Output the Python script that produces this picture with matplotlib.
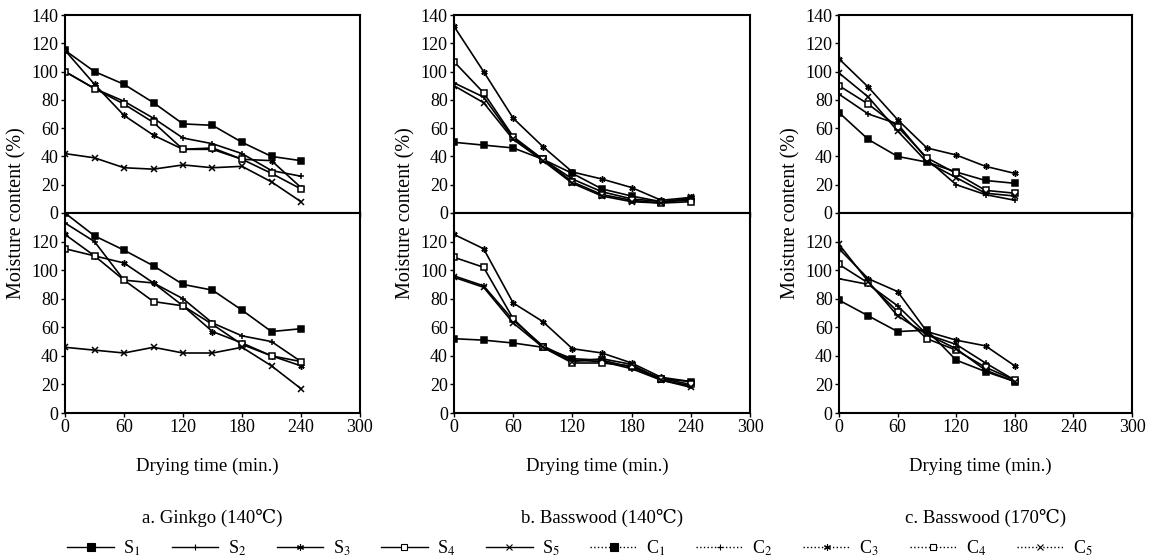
"""Moisture content vs drying time, three wood/temperature cases."""

import matplotlib

matplotlib.use("Agg")
import matplotlib.pyplot as plt
from matplotlib.lines import Line2D

plt.rcParams["font.family"] = ["Liberation Serif", "DejaVu Serif"]
plt.rcParams["mathtext.fontset"] = "stix"

# drying times (min.)
TIME_240 = [0, 30, 60, 90, 120, 150, 180, 210, 240]
TIME_180 = [0, 30, 60, 90, 120, 150, 180]

SERIES = ["1", "2", "3", "4", "5"]
MARKERS = {"1": "s", "2": "+", "3": (6, 2, 0), "4": "s", "5": "x"}
FILLED = {"1": True, "2": True, "3": True, "4": False, "5": True}

# a. Ginkgo (140 C)
GINKGO_S = {
    "1": [115, 100, 91, 78, 63, 62, 50, 40, 37],
    "2": [100, 88, 79, 67, 53, 49, 42, 30, 26],
    "3": [115, 91, 69, 55, 45, 45, 38, 37, 18],
    "4": [100, 88, 77, 64, 45, 46, 38, 28, 17],
    "5": [42, 39, 32, 31, 34, 32, 33, 22, 8],
}
GINKGO_C = {
    "1": [140, 124, 114, 103, 90, 86, 72, 57, 59],
    "2": [133, 120, 93, 91, 80, 63, 54, 50, 36],
    "3": [125, 110, 105, 91, 75, 57, 49, 40, 33],
    "4": [115, 110, 93, 78, 75, 62, 48, 40, 36],
    "5": [46, 44, 42, 46, 42, 42, 46, 33, 17],
}

# b. Basswood (140 C)
BASS140_S = {
    "1": [50, 48, 46, 38, 28, 17, 12, 8, 10],
    "2": [92, 82, 53, 38, 24, 15, 10, 8, 9],
    "3": [132, 100, 67, 47, 29, 24, 18, 9, 11],
    "4": [107, 85, 54, 38, 22, 13, 9, 7, 8],
    "5": [90, 78, 52, 37, 21, 12, 8, 7, 11],
}
BASS140_C = {
    "1": [52, 51, 49, 46, 38, 37, 32, 24, 22],
    "2": [96, 89, 65, 47, 37, 36, 31, 23, 19],
    "3": [125, 115, 77, 64, 45, 42, 35, 25, 22],
    "4": [109, 102, 66, 46, 35, 35, 33, 24, 20],
    "5": [95, 88, 63, 46, 36, 38, 34, 23, 18],
}

# c. Basswood (170 C)
BASS170_S = {
    "1": [71, 52, 40, 36, 29, 23, 21],
    "2": [84, 70, 63, 38, 20, 13, 9],
    "3": [109, 89, 66, 46, 41, 33, 28],
    "4": [90, 77, 61, 39, 28, 16, 14],
    "5": [99, 82, 58, 36, 25, 14, 12],
}
BASS170_C = {
    "1": [79, 68, 57, 58, 37, 29, 22],
    "2": [94, 90, 75, 55, 48, 35, 23],
    "3": [115, 94, 85, 57, 51, 47, 33],
    "4": [104, 91, 71, 52, 44, 32, 23],
    "5": [118, 92, 68, 55, 45, 30, 22],
}

PANELS = [
    ("a. Ginkgo (140\u2103)", TIME_240, GINKGO_S, GINKGO_C),
    ("b. Basswood (140\u2103)", TIME_240, BASS140_S, BASS140_C),
    ("c. Basswood (170\u2103)", TIME_180, BASS170_S, BASS170_C),
]

W, H = 1160, 559
LEFTS = [65, 454, 839]
RIGHTS = [360, 750, 1132]
TOP, MID, BOTTOM = 15, 213, 413


def draw_series(axis, times, values):
    for key in SERIES:
        axis.plot(
            times,
            values[key],
            color="black",
            linewidth=1.2,
            marker=MARKERS[key],
            markersize=4.5,
            markeredgewidth=1.1,
            markerfacecolor="black" if FILLED[key] else "white",
            markeredgecolor="black",
        )


def style_axis(axis, yticks, show_x):
    axis.set_xlim(0, 300)
    axis.set_ylim(0, 140)
    axis.set_xticks([0, 60, 120, 180, 240, 300])
    axis.set_yticks(yticks)
    axis.tick_params(direction="out", length=3, width=1, labelsize=13, pad=1.5,
                     labelbottom=show_x)
    for spine in axis.spines.values():
        spine.set_linewidth(1.5)


fig = plt.figure(figsize=(W / 100, H / 100), dpi=100)

for idx, (caption, times, s_vals, c_vals) in enumerate(PANELS):
    left = LEFTS[idx] / W
    width = (RIGHTS[idx] - LEFTS[idx]) / W
    ax_top = fig.add_axes([left, 1 - MID / H, width, (MID - TOP) / H])
    ax_bot = fig.add_axes([left, 1 - BOTTOM / H, width, (BOTTOM - MID) / H])

    draw_series(ax_top, times, s_vals)
    draw_series(ax_bot, times, c_vals)
    style_axis(ax_top, range(0, 141, 20), False)
    style_axis(ax_bot, range(0, 121, 20), True)

    center_x = (LEFTS[idx] + RIGHTS[idx]) / 2 / W
    fig.text(center_x - 5 / W, 1 - 466 / H, "Drying time (min.)", ha="center",
             va="center", fontsize=13.5)
    fig.text(center_x, 1 - 518 / H, caption, ha="center", va="center", fontsize=13.5)
    fig.text((LEFTS[idx] - 48) / W, 1 - 213 / H, "Moisture content (%)", rotation=90,
             ha="center", va="center", fontsize=14.5)

handles = []
labels = []
for prefix, style in (("S", "-"), ("C", ":")):
    for key in SERIES:
        handles.append(
            Line2D([], [], color="black", linestyle=style, linewidth=1.0,
                   marker=MARKERS[key], markersize=6 if key == "1" else 5,
                   markerfacecolor="black" if FILLED[key] else "white",
                   markeredgecolor="black", markeredgewidth=0.8)
        )
        labels.append(f"{prefix}$_{key}$")

fig.legend(handles, labels, loc="center", bbox_to_anchor=(0.5, 1 - 548 / H), ncol=10,
           frameon=False, fontsize=13, handlelength=2.6, columnspacing=1.7,
           handletextpad=0.5)

fig.savefig("out.png", dpi=100)
